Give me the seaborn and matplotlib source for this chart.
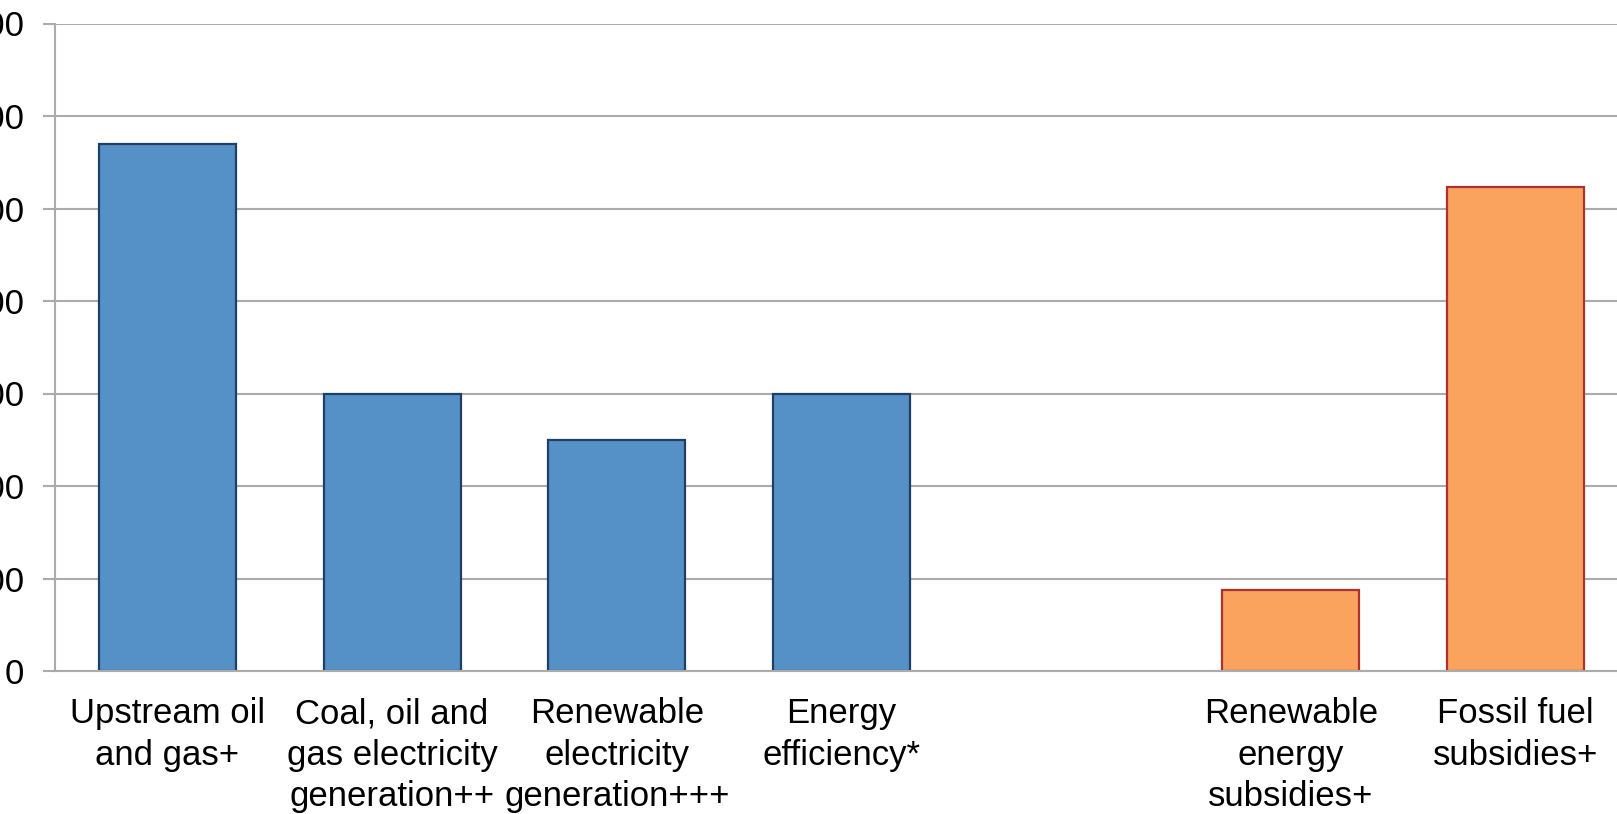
import numpy as np
import matplotlib
matplotlib.use("Agg")
import matplotlib.pyplot as plt
import seaborn as sns

# Global energy investment and subsidies, billion USD
categories = [
    "Upstream oil\nand gas+",
    "Coal, oil and\ngas electricity\ngeneration++",
    "Renewable\nelectricity\ngeneration+++",
    "Energy\nefficiency*",
    " ",
    "Renewable\nenergy\nsubsidies+",
    "Fossil fuel\nsubsidies+",
]
values = [570, 300, 250, 300, np.nan, 88, 523]
groups = ["Investment", "Investment", "Investment", "Investment",
          "Investment", "Subsidy", "Subsidy"]
y_ticks = [0, 100, 200, 300, 400, 500, 600, 700]

fill_colors = {"Investment": "#5590C6", "Subsidy": "#F9A35F"}
edge_colors = {"Investment": "#1F3F66", "Subsidy": "#B03030"}
grid_color = "#ABABAB"

sns.set_theme(style="white")
plt.rcParams["font.family"] = ["Liberation Sans", "DejaVu Sans"]

fig = plt.figure(figsize=(16.17, 8.14), dpi=100)
ax = fig.add_axes([55 / 1617, 1 - 671 / 814, (1628 - 55) / 1617, (671 - 23.5) / 814])

sns.barplot(x=categories, y=values, hue=groups, order=categories,
            palette=fill_colors, dodge=False, width=0.61, legend=False,
            saturation=1, ax=ax, zorder=2)

# Bar outlines per group
for patch in ax.patches:
    fc = matplotlib.colors.to_hex(patch.get_facecolor())
    grp = "Subsidy" if fc.lower() == fill_colors["Subsidy"].lower() else "Investment"
    patch.set_edgecolor(edge_colors[grp])
    patch.set_linewidth(1.6)

ax.set_xlim(-0.5, len(categories) - 0.5)
ax.set_ylim(0, 700)
ax.set_yticks(y_ticks)
ax.set_yticklabels([str(t) for t in y_ticks])

ax.yaxis.grid(True, color=grid_color, linewidth=1.5, zorder=1)
ax.set_axisbelow(True)

for side in ["top", "right"]:
    ax.spines[side].set_visible(False)
for side in ["left", "bottom"]:
    ax.spines[side].set_color(grid_color)
    ax.spines[side].set_linewidth(1.5)
    ax.spines[side].set_zorder(3)

# Category boundary ticks on the x axis
ax.set_xticks(np.arange(-0.5, len(categories), 1), minor=True)
ax.tick_params(axis="x", which="major", length=0, pad=19, labelsize=25, labelcolor="black")
ax.tick_params(axis="x", which="minor", length=9, width=1.5, color=grid_color, direction="out")
ax.tick_params(axis="y", which="major", length=9, width=1.5, color=grid_color, left=True,
               direction="out", pad=13, labelsize=25, labelcolor="black")

for lbl in ax.get_xticklabels():
    lbl.set_linespacing(1.32)
    lbl.set_verticalalignment("top")

ax.set_xlabel("")
ax.set_ylabel("")

fig.savefig("out.png", dpi=100)
